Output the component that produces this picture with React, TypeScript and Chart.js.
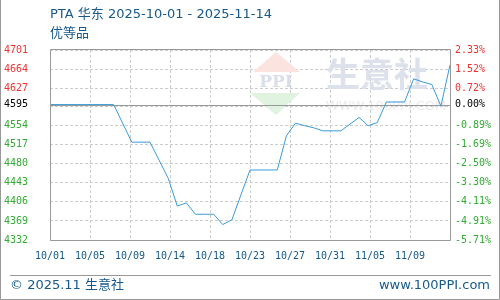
import { useEffect, useRef } from 'react';
import { Chart, registerables } from 'chart.js';

Chart.register(...registerables);

const titleText = 'PTA 华东 2025-10-01 - 2025-11-14';
const subtitleText = '优等品';
const footerLeft = '© 2025.11 生意社';
const footerRight = 'www.100PPI.com';

const startDate = '2025-10-01';
const endDate = '2025-11-14';

const dates = [
  '2025-10-01', '2025-10-08', '2025-10-10', '2025-10-12', '2025-10-14', '2025-10-15',
  '2025-10-16', '2025-10-17', '2025-10-19', '2025-10-20', '2025-10-21', '2025-10-23',
  '2025-10-26', '2025-10-27', '2025-10-28', '2025-10-29', '2025-10-30', '2025-10-31',
  '2025-11-02', '2025-11-04', '2025-11-05', '2025-11-06', '2025-11-07', '2025-11-09',
  '2025-11-10', '2025-11-11', '2025-11-12', '2025-11-13', '2025-11-14',
];
const prices = [
  4595, 4595, 4522, 4522, 4452, 4398,
  4404, 4382, 4382, 4362, 4371, 4468,
  4468, 4534, 4559, 4554, 4550, 4544,
  4544, 4570, 4554, 4560, 4600, 4600,
  4645, 4639, 4634, 4592, 4672,
];

const xTickLabels = ['10/01', '10/05', '10/09', '10/14', '10/18', '10/23', '10/27', '10/31', '11/05', '11/09'];
const leftTickLabels = ['4701', '4664', '4627', '4595', '4554', '4517', '4480', '4443', '4406', '4369', '4332'];
const rightTickLabels = ['2.33%', '1.52%', '0.72%', '0.00%', '-0.89%', '-1.69%', '-2.50%', '-3.30%', '-4.11%', '-4.91%', '-5.71%'];
const baseValue = 4595;

const TEXT_BLUE = '#17598a';
const RED = '#ee3333';
const GREEN = '#33aa33';
const GRID = '#cccccc';
const FRAME = '#999999';

const dayOffset = (d: string) => (Date.parse(d) - Date.parse(startDate)) / 86400000;

export default function App() {
  const ref = useRef<HTMLCanvasElement>(null);

  useEffect(() => {
    const canvas = ref.current;
    if (!canvas) return;
    const points = dates.map((d, i) => ({ x: dayOffset(d), y: prices[i] }));
    const xMax = dayOffset(endDate);
    const xTicks = Array.from({ length: xTickLabels.length + 1 }, (_, i) => (i * xMax) / xTickLabels.length);
    const labelVals = leftTickLabels.map(Number);
    const yMax = labelVals[0];
    const yMin = labelVals[labelVals.length - 1];
    const baseIndex = labelVals.indexOf(baseValue);
    const gridFill = yMax - (baseIndex * (yMax - yMin)) / (labelVals.length - 1);
    const yTicks = [...labelVals, gridFill].sort((a, b) => a - b);

    const tickColor = (v: number) => (v > baseValue ? RED : v === baseValue ? '#000000' : GREEN);
    const monoFont = { family: '"DejaVu Sans Mono", monospace', size: 10 };

    const deco = {
      id: 'deco',
      beforeDatasetsDraw(chart: any) {
        const { ctx, chartArea } = chart;
        ctx.save();
        // watermark
        ctx.fillStyle = '#fbe4e0';
        ctx.beginPath();
        ctx.moveTo(276, 52); ctx.lineTo(300, 72); ctx.lineTo(253, 72); ctx.closePath(); ctx.fill();
        ctx.fillStyle = '#e0f2e0';
        ctx.beginPath();
        ctx.moveTo(250, 93); ctx.lineTo(300, 93); ctx.lineTo(276, 115); ctx.closePath(); ctx.fill();
        ctx.fillStyle = '#d9deea';
        ctx.font = 'bold 17px "DejaVu Serif", serif';
        ctx.textAlign = 'center';
        ctx.textBaseline = 'middle';
        ctx.fillText('PPI', 276, 83);
        ctx.fillStyle = '#dde1ec';
        ctx.font = 'bold 34px "Noto Sans CJK SC", sans-serif';
        ctx.textAlign = 'left';
        ctx.fillText('生意社', 326, 74);
        ctx.fillStyle = '#ebebeb';
        ctx.font = '13px "DejaVu Sans", sans-serif';
        ctx.fillText('WWW.100PPI.COM', 326, 107);
        // baseline
        const y = Math.round(chart.scales.y.getPixelForValue(baseValue)) + 0.5;
        ctx.strokeStyle = FRAME;
        ctx.lineWidth = 1;
        ctx.beginPath();
        ctx.moveTo(chartArea.left, y);
        ctx.lineTo(chartArea.right, y);
        ctx.stroke();
        ctx.restore();
      },
      afterDraw(chart: any) {
        const { ctx, chartArea } = chart;
        ctx.save();
        ctx.strokeStyle = FRAME;
        ctx.lineWidth = 1;
        ctx.beginPath();
        ctx.moveTo(chartArea.left + 0.5, chartArea.top - 0.5);
        ctx.lineTo(chartArea.right + 0.5, chartArea.top - 0.5);
        ctx.lineTo(chartArea.right + 0.5, chartArea.bottom + 0.5);
        ctx.lineTo(chartArea.left + 0.5, chartArea.bottom + 0.5);
        ctx.closePath();
        ctx.stroke();
        // footer line
        ctx.beginPath();
        ctx.moveTo(10, 275.5);
        ctx.lineTo(491, 275.5);
        ctx.stroke();
        // outer border
        ctx.beginPath();
        ctx.moveTo(0.5, 0);
        ctx.lineTo(0.5, 299.5);
        ctx.lineTo(499.5, 299.5);
        ctx.lineTo(499.5, 0);
        ctx.stroke();
        // texts
        ctx.fillStyle = TEXT_BLUE;
        ctx.textBaseline = 'middle';
        ctx.textAlign = 'left';
        ctx.font = '13px "DejaVu Sans", "Noto Sans CJK SC", sans-serif';
        ctx.fillText(titleText, 50, 15);
        ctx.fillText(subtitleText, 50, 34);
        ctx.fillText(footerLeft, 10, 286);
        ctx.textAlign = 'right';
        ctx.fillText(footerRight, 490, 286);
        ctx.restore();
      },
    };

    const chart = new Chart(canvas, {
      type: 'line',
      data: {
        datasets: [
          {
            data: points,
            borderColor: '#3a9ad9',
            borderWidth: 1,
            pointRadius: 0,
            tension: 0,
            fill: false,
          },
        ],
      },
      options: {
        animation: false,
        responsive: false,
        layout: { padding: { top: 50, left: 0, right: 0, bottom: 0 } },
        plugins: { legend: { display: false }, tooltip: { enabled: false } },
        scales: {
          x: {
            type: 'linear',
            min: 0,
            max: xMax,
            afterBuildTicks: (s: any) => { s.ticks = xTicks.map((v) => ({ value: v })); },
            afterFit: (s: any) => { s.height = 60; },
            grid: { color: GRID, drawTicks: false },
            border: { display: false, dash: [3, 2] },
            ticks: {
              autoSkip: false,
              maxRotation: 0,
              padding: 10,
              color: TEXT_BLUE,
              font: monoFont,
              callback: (_v: any, i: number) => xTickLabels[i] ?? '',
            },
          },
          y: {
            position: 'left',
            min: yMin,
            max: yMax,
            afterBuildTicks: (s: any) => { s.ticks = yTicks.map((v) => ({ value: v })); },
            afterFit: (s: any) => { s.width = 50; },
            grid: {
              drawTicks: false,
              color: (c: any) => (c.tick && c.tick.value === baseValue ? 'rgba(0,0,0,0)' : GRID),
            },
            border: { display: false, dash: [3, 2] },
            ticks: {
              autoSkip: false,
              padding: 22,
              font: monoFont,
              color: (c: any) => tickColor(c.tick.value),
              callback: (v: any) => {
                const i = labelVals.indexOf(Number(v));
                return i >= 0 ? leftTickLabels[i] : '';
              },
            },
          },
          y1: {
            position: 'right',
            min: yMin,
            max: yMax,
            afterBuildTicks: (s: any) => { s.ticks = yTicks.map((v) => ({ value: v })); },
            afterFit: (s: any) => { s.width = 50; },
            grid: { drawOnChartArea: false, drawTicks: false },
            border: { display: false },
            ticks: {
              autoSkip: false,
              padding: 5,
              font: monoFont,
              color: (c: any) => tickColor(c.tick.value),
              callback: (v: any) => {
                const i = labelVals.indexOf(Number(v));
                return i >= 0 ? rightTickLabels[i] : '';
              },
            },
          },
        },
      },
      plugins: [deco],
    });
    return () => chart.destroy();
  }, []);

  return (
    <div style={{ position: 'fixed', left: 0, top: 0, width: 500, height: 300, background: '#fff' }}>
      <canvas ref={ref} width={500} height={300} style={{ display: 'block' }} />
    </div>
  );
}
